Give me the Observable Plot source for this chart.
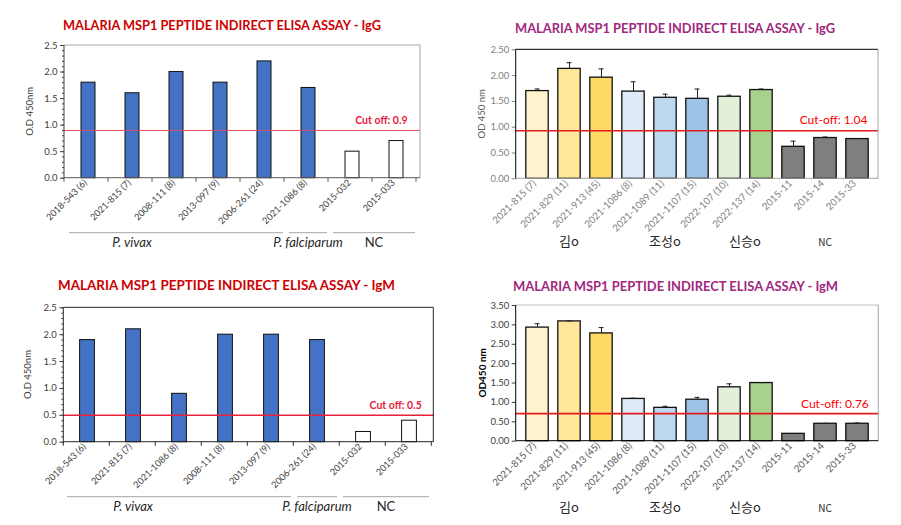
<!DOCTYPE html>
<html>
<head>
<meta charset="utf-8">
<script src="https://cdn.jsdelivr.net/npm/d3@7"></script>
<script src="https://cdn.jsdelivr.net/npm/@observablehq/plot@0.6"></script>
<style>
  html, body { margin: 0; padding: 0; background: #fff; }
  #wrap { position: relative; width: 901px; height: 525px; overflow: hidden; background: #fff; }
  .panel { position: absolute; }
</style>
</head>
<body>
<div id="wrap"></div>
<script>
// ---------------- DATA ----------------
// Panel A: top-left, IgG
const aTitle = "MALARIA MSP1 PEPTIDE INDIRECT ELISA ASSAY - IgG";
const aCategories = ["2018-543 (6)", "2021-815 (7)", "2008-111 (8)", "2013-097 (9)", "2006-261 (24)", "2021-1086 (8)", "2015-032", "2015-033"];
const aValues = [1.8, 1.6, 2.0, 1.8, 2.2, 1.7, 0.5, 0.7];
const aKind = ["sample", "sample", "sample", "sample", "sample", "sample", "nc", "nc"];
const aYTicks = [0, 0.5, 1.0, 1.5, 2.0, 2.5];
const aCutoff = 0.9;
const aCutoffText = "Cut off: 0.9";
const aYLabel = "O.D 450nm";
const aGroupNames = ["P. vivax", "P. falciparum", "NC"];
const aGroupFirst = ["2018-543 (6)", "2021-1086 (8)", "2015-032"];
const aGroupLast = ["2006-261 (24)", "2021-1086 (8)", "2015-033"];
const aGroupUnder = [["2021-815 (7)"], ["2021-1086 (8)"], ["2015-032", "2015-033"]];

// Panel B: top-right, IgG with error bars
const bTitle = "MALARIA MSP1 PEPTIDE INDIRECT ELISA ASSAY - IgG";
const bCategories = ["2021-815 (7)", "2021-829 (11)", "2021-913 (45)", "2021-1086 (8)", "2021-1089 (11)", "2021-1107 (15)", "2022-107 (10)", "2022-137 (14)", "2015-11", "2015-14", "2015-33"];
const bValues = [1.70, 2.13, 1.96, 1.69, 1.57, 1.55, 1.59, 1.72, 0.62, 0.79, 0.77];
const bErrors = [0.04, 0.12, 0.17, 0.19, 0.07, 0.19, 0.03, 0.02, 0.11, 0.02, 0.01];
const bYTicks = [0, 0.5, 1.0, 1.5, 2.0, 2.5];
const bCutoff = 0.93;
const bCutoffText = "Cut-off: 1.04";
const bYLabel = "OD 450 nm";
const bGroupNames = ["김o", "조성o", "신승o", "NC"];
const bGroupUnder = [["2021-829 (11)"], ["2021-1089 (11)"], ["2022-107 (10)", "2022-137 (14)"], ["2015-14"]];

// Panel C: bottom-left, IgM
const cTitle = "MALARIA MSP1 PEPTIDE INDIRECT ELISA ASSAY - IgM";
const cCategories = ["2018-543 (6)", "2021-815 (7)", "2021-1086 (8)", "2008-111 (8)", "2013-097 (9)", "2006-261 (24)", "2015-032", "2015-033"];
const cValues = [1.9, 2.1, 0.9, 2.0, 2.0, 1.9, 0.19, 0.4];
const cKind = ["sample", "sample", "sample", "sample", "sample", "sample", "nc", "nc"];
const cYTicks = [0, 0.5, 1.0, 1.5, 2.0, 2.5];
const cCutoff = 0.5;
const cCutoffText = "Cut off: 0.5";
const cYLabel = "O.D 450nm";
const cGroupNames = ["P. vivax", "P. falciparum", "NC"];
const cGroupFirst = ["2018-543 (6)", "2006-261 (24)", "2015-032"];
const cGroupLast = ["2013-097 (9)", "2006-261 (24)", "2015-033"];
const cGroupUnder = [["2021-815 (7)"], ["2006-261 (24)"], ["2015-032", "2015-033"]];

// Panel D: bottom-right, IgM with error bars
const dTitle = "MALARIA MSP1 PEPTIDE INDIRECT ELISA ASSAY - IgM";
const dCategories = ["2021-815 (7)", "2021-829 (11)", "2021-913 (45)", "2021-1086 (8)", "2021-1089 (11)", "2021-1107 (15)", "2022-107 (10)", "2022-137 (14)", "2015-11", "2015-14", "2015-33"];
const dValues = [2.93, 3.09, 2.78, 1.09, 0.86, 1.07, 1.39, 1.50, 0.19, 0.45, 0.45];
const dErrors = [0.10, 0.01, 0.15, 0.02, 0.04, 0.06, 0.09, 0.01, 0.0, 0.01, 0.02];
const dYTicks = [0, 0.5, 1.0, 1.5, 2.0, 2.5, 3.0, 3.5];
const dCutoff = 0.71;
const dCutoffText = "Cut-off: 0.76";
const dYLabel = "OD450 nm";
const dGroupNames = ["김o", "조성o", "신승o", "NC"];
const dGroupUnder = [["2021-829 (11)"], ["2021-1089 (11)"], ["2022-107 (10)", "2022-137 (14)"], ["2015-14"]];

// ---------------- STYLE ----------------
const FONT = "Lato, 'Noto Sans CJK KR', sans-serif";
const KFONT = "'Noto Sans CJK KR', Lato, sans-serif";
const blueFill = { sample: "#4472c4", nc: "#ffffff" };
const seriesFills = ["#fff2cc", "#ffe699", "#ffd966", "#deebf7", "#bdd7ee", "#9dc3e6", "#e2f0d9", "#a9d18e", "#7f7f7f", "#7f7f7f", "#7f7f7f"];

const wrap = document.getElementById("wrap");

function panel(cfg) {
  const data = cfg.categories.map((c, i) => ({
    c, v: cfg.values[i], e: cfg.errors ? cfg.errors[i] : 0, f: cfg.fills[i]
  }));
  const err = data.filter(d => d.e > 0);
  const marks = [
    Plot.barY(data, {x: "c", y: "v", fill: "f", stroke: "#111", strokeWidth: cfg.barStroke, insetLeft: cfg.inset, insetRight: cfg.inset})
  ];
  if (cfg.errors) {
    marks.push(Plot.ruleX(err, {x: "c", y1: "v", y2: d => d.v + d.e, stroke: "#222", strokeWidth: 1}));
    marks.push(Plot.tickY(err, {x: "c", y: d => d.v + d.e, stroke: "#222", strokeWidth: 1, insetLeft: cfg.capInset, insetRight: cfg.capInset}));
  }
  marks.push(Plot.ruleY([cfg.cutoff], {stroke: cfg.cutColor, strokeWidth: cfg.cutWidth}));
  marks.push(Plot.text([cfg.cutText], {
    frameAnchor: "right", y: () => cfg.cutoff, text: d => d, textAnchor: "end",
    dx: cfg.cutDx, dy: cfg.cutDy, fill: cfg.cutTextColor, fontWeight: cfg.cutWeight, fontSize: cfg.cutSize
  }));
  marks.push(Plot.axisY(cfg.yTicks, {tickSize: 4, tickPadding: 3, tickFormat: cfg.yFormat, fontSize: cfg.yFontSize, color: cfg.yTickColor, label: null}));
  if (cfg.minor) marks.push(Plot.axisY(cfg.minor, {tickSize: 2, fill: "none", stroke: cfg.yTickColor, label: null}));
  marks.push(Plot.axisX({tickRotate: -45, tickSize: 0, tickPadding: cfg.xPad, dx: cfg.xDx, fontSize: cfg.xFontSize, color: cfg.xColor, label: null}));

  const plot = Plot.plot({
    width: cfg.width, height: cfg.height,
    marginTop: cfg.m[0], marginRight: cfg.m[1], marginBottom: cfg.m[2], marginLeft: cfg.m[3],
    style: {fontFamily: FONT, background: "transparent", overflow: "visible"},
    x: {domain: cfg.categories, padding: 0},
    y: {domain: cfg.yDomain},
    marks
  });

  const svg = d3.select(plot);
  const xs = plot.scale("x"), ys = plot.scale("y");
  const L = xs.range[0], R = xs.range[1];
  const B = ys.range[0], T = ys.range[1];
  const bw = xs.bandwidth;
  const center = c => xs.apply(c) + bw / 2;
  const g = svg.append("g");
  const line = (x1, y1, x2, y2, color, w) =>
    g.append("line").attr("x1", x1).attr("y1", y1).attr("x2", x2).attr("y2", y2)
      .attr("stroke", color).attr("stroke-width", w || 1);
  // frame
  line(L, T, R, T, cfg.frame.top);
  line(R, T, R, B, cfg.frame.right);
  line(L, B, R, B, cfg.frame.bottom);
  line(L, T, L, B, cfg.frame.left);
  // boundary ticks on the category axis
  if (cfg.boundaryTicks) {
    for (let i = 0; i <= cfg.categories.length; i++) {
      const x = L + i * xs.step;
      line(x, B, x, B + 4, cfg.frame.bottom);
    }
  }
  // y label
  g.append("text")
    .attr("transform", `translate(${cfg.yLabelX},${(T + B) / 2 + cfg.yLabelDy}) rotate(-90)`)
    .attr("text-anchor", "middle").attr("dominant-baseline", "central")
    .attr("font-size", cfg.yLabelSize).attr("font-weight", cfg.yLabelWeight)
    .attr("fill", cfg.yLabelColor).attr("font-family", FONT)
    .text(cfg.yLabel);
  // title
  g.append("text")
    .attr("x", cfg.titleX).attr("y", cfg.titleY)
    .attr("text-anchor", "middle").attr("font-size", 14).attr("font-weight", "bold")
    .attr("fill", cfg.titleColor).attr("font-family", FONT)
    .attr("textLength", cfg.titleW).attr("lengthAdjust", "spacingAndGlyphs")
    .text(cfg.title);
  // group lines
  if (cfg.groupFirst) {
    cfg.groupFirst.forEach((f, i) => {
      const x1 = xs.apply(f) + 3, x2 = xs.apply(cfg.groupLast[i]) + bw - 3;
      line(x1, cfg.groupLineY, x2, cfg.groupLineY, "#a6a6a6");
    });
  }
  // group labels
  cfg.groupNames.forEach((name, i) => {
    const cx = d3.mean(cfg.groupUnder[i], center);
    const isNC = name === "NC";
    g.append("text")
      .attr("x", cx).attr("y", cfg.groupLabelY)
      .attr("text-anchor", "middle")
      .attr("font-family", cfg.korean ? KFONT : FONT)
      .attr("font-style", (!cfg.korean && !isNC) ? "italic" : "normal")
      .attr("font-size", isNC ? cfg.ncSize : cfg.groupSize)
      .attr("fill", "#262626")
      .text(name);
  });

  const div = document.createElement("div");
  div.className = "panel";
  div.style.left = cfg.left + "px";
  div.style.top = cfg.top + "px";
  div.appendChild(plot);
  wrap.appendChild(div);
}

const minor1 = d3.range(0, 2.5001, 0.1).map(v => +v.toFixed(1));

panel({
  left: 0, top: 0, width: 450, height: 262, m: [45, 30, 84.3, 64],
  categories: aCategories, values: aValues, fills: aKind.map(k => blueFill[k]),
  inset: 15, barStroke: 1, yDomain: [0, 2.5], yTicks: aYTicks, minor: minor1,
  yFormat: d3.format(".1f"), yFontSize: 9.5, yTickColor: "#404040",
  xPad: 3, xDx: -3, xFontSize: 9.2, xColor: "#404040",
  cutoff: aCutoff, cutText: aCutoffText, cutColor: "#e0505e", cutWidth: 1,
  cutDx: -13, cutDy: -10, cutTextColor: "#e8193c", cutWeight: "bold", cutSize: 10.5,
  frame: {top: "#a6a6a6", right: "#a6a6a6", bottom: "#595959", left: "#404040"},
  boundaryTicks: true,
  yLabel: aYLabel, yLabelX: 29, yLabelDy: 0, yLabelSize: 9.5, yLabelWeight: "normal", yLabelColor: "#404040",
  title: aTitle, titleX: 222, titleY: 30, titleW: 318, titleColor: "#cc0000",
  groupNames: aGroupNames, groupFirst: aGroupFirst, groupLast: aGroupLast, groupUnder: aGroupUnder,
  groupLineY: 232.7, groupLabelY: 246.7, groupSize: 13, ncSize: 13, korean: false
});

panel({
  left: 450, top: 0, width: 451, height: 262, m: [49.3, 23, 83.7, 65.7],
  categories: bCategories, values: bValues, errors: bErrors, fills: seriesFills,
  inset: 4.8, capInset: 13.5, barStroke: 1.3, yDomain: [0, 2.5], yTicks: bYTicks,
  yFormat: d3.format(".2f"), yFontSize: 9.5, yTickColor: "#7f7f7f",
  xPad: 3, xDx: -3, xFontSize: 9.8, xColor: "#7f7f7f",
  cutoff: bCutoff, cutText: bCutoffText, cutColor: "#e31a1c", cutWidth: 1.5,
  cutDx: -11, cutDy: -11, cutTextColor: "#ff0000", cutWeight: "normal", cutSize: 12,
  frame: {top: "#000000", right: "#a6a6a6", bottom: "#a6a6a6", left: "#000000"},
  boundaryTicks: false,
  yLabel: bYLabel, yLabelX: 31, yLabelDy: 0, yLabelSize: 9.5, yLabelWeight: "normal", yLabelColor: "#595959",
  title: bTitle, titleX: 225, titleY: 33, titleW: 320, titleColor: "#a0287e",
  groupNames: bGroupNames, groupUnder: bGroupUnder,
  groupLabelY: 246, groupSize: 13, ncSize: 10, korean: true
});

panel({
  left: 0, top: 262, width: 450, height: 263, m: [45.3, 16.7, 83.3, 63.3],
  categories: cCategories, values: cValues, fills: cKind.map(k => blueFill[k]),
  inset: 15.6, barStroke: 1, yDomain: [0, 2.5], yTicks: cYTicks, minor: minor1,
  yFormat: d3.format(".1f"), yFontSize: 9.5, yTickColor: "#404040",
  xPad: 3, xDx: -3, xFontSize: 9.2, xColor: "#404040",
  cutoff: cCutoff, cutText: cCutoffText, cutColor: "#e8203a", cutWidth: 1.5,
  cutDx: -12, cutDy: -10, cutTextColor: "#e8193c", cutWeight: "bold", cutSize: 10.5,
  frame: {top: "#262626", right: "#262626", bottom: "#262626", left: "#262626"},
  boundaryTicks: true,
  yLabel: cYLabel, yLabelX: 27, yLabelDy: 0, yLabelSize: 9.5, yLabelWeight: "normal", yLabelColor: "#404040",
  title: cTitle, titleX: 226.5, titleY: 28, titleW: 337, titleColor: "#cc0000",
  groupNames: cGroupNames, groupFirst: cGroupFirst, groupLast: cGroupLast, groupUnder: cGroupUnder,
  groupLineY: 234.7, groupLabelY: 248.7, groupSize: 13, ncSize: 13, korean: false
});

panel({
  left: 450, top: 262, width: 451, height: 263, m: [43, 22.7, 84.3, 65.7],
  categories: dCategories, values: dValues, errors: dErrors, fills: seriesFills,
  inset: 4.8, capInset: 13.5, barStroke: 1.3, yDomain: [0, 3.5], yTicks: dYTicks,
  yFormat: d3.format(".2f"), yFontSize: 9.5, yTickColor: "#404040",
  xPad: 3, xDx: -3, xFontSize: 9.8, xColor: "#595959",
  cutoff: dCutoff, cutText: dCutoffText, cutColor: "#e31a1c", cutWidth: 1.8,
  cutDx: -10, cutDy: -10, cutTextColor: "#ff0000", cutWeight: "normal", cutSize: 12,
  frame: {top: "#bfbfbf", right: "#a6a6a6", bottom: "#000000", left: "#000000"},
  boundaryTicks: false,
  yLabel: dYLabel, yLabelX: 31.7, yLabelDy: 0, yLabelSize: 10, yLabelWeight: "bold", yLabelColor: "#000000",
  title: dTitle, titleX: 225.5, titleY: 28.5, titleW: 325, titleColor: "#a0287e",
  groupNames: dGroupNames, groupUnder: dGroupUnder,
  groupLabelY: 249.5, groupSize: 13, ncSize: 10, korean: true
});
</script>
</body>
</html>
